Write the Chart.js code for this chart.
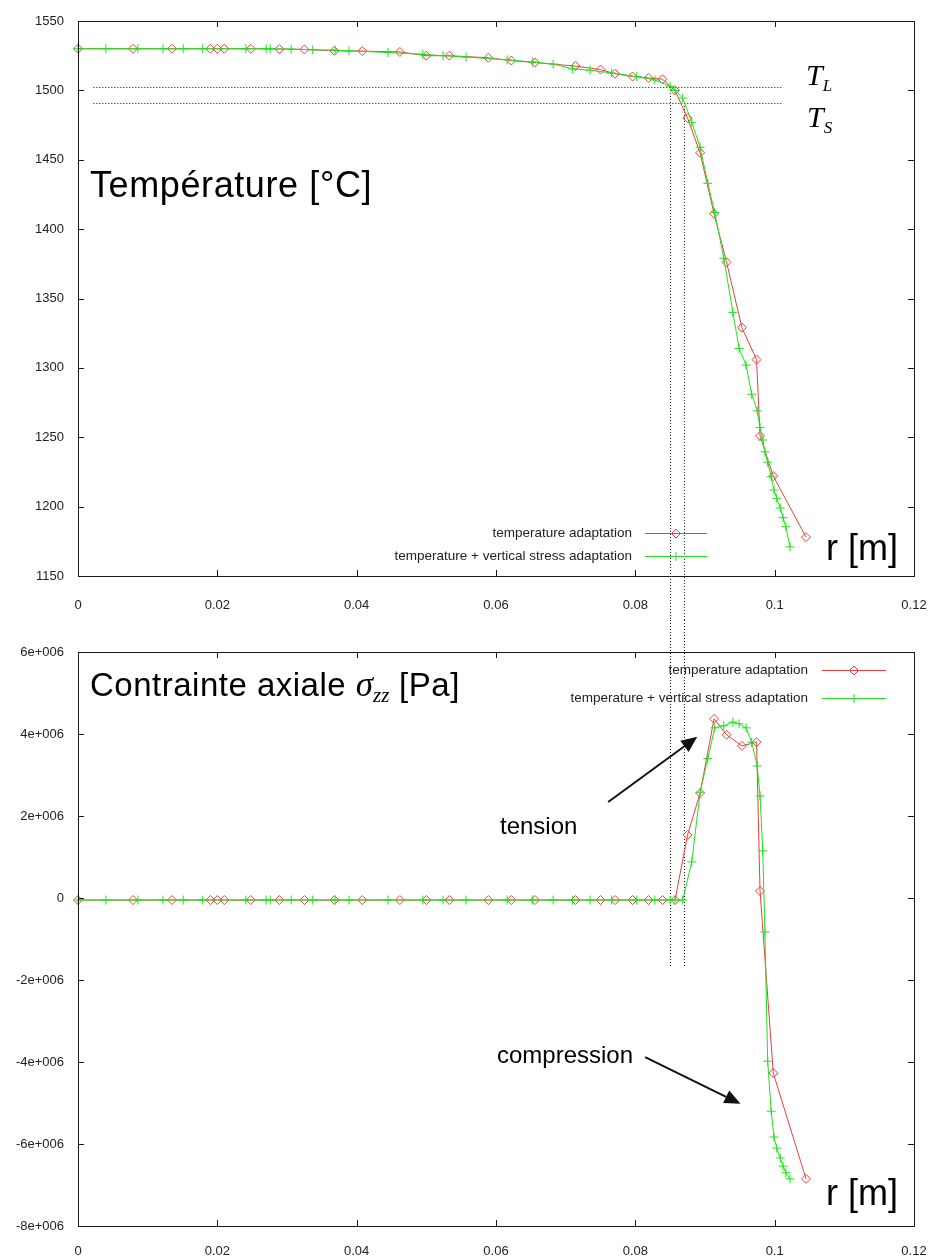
<!DOCTYPE html>
<html>
<head>
<meta charset="utf-8">
<script src="https://cdn.jsdelivr.net/npm/chart.js@4.4.1/dist/chart.umd.min.js"></script>
<style>
  body { margin: 0; background: #fff; }
  #wrap { position: relative; width: 930px; height: 1260px; overflow: hidden; font-family: Arial, "Liberation Sans", sans-serif; }
  canvas { position: absolute; left: 0; }
  #tempChart { top: 0; }
  #stressChart { top: 620px; }
  .lbl { position: absolute; white-space: nowrap; line-height: 1; color: #000; }
  .big { font-size: 36px; }
  .ital { font-family: "Liberation Serif", "DejaVu Serif", serif; font-style: italic; }
  .note { font-size: 24px; }
</style>
</head>
<body>
<div id="wrap">
  <canvas id="tempChart" width="930" height="620"></canvas>
  <canvas id="stressChart" width="930" height="640"></canvas>

  <div class="lbl big" style="left:90px;top:167px;letter-spacing:0.6px;">Température [°C]</div>
  <div class="lbl big" style="left:826px;top:530px;">r [m]</div>
  <div class="lbl ital" style="left:806px;top:60px;font-size:30px;">T<span style="font-size:17px;position:relative;top:6px;">L</span></div>
  <div class="lbl ital" style="left:807px;top:102px;font-size:30px;">T<span style="font-size:17px;position:relative;top:6px;">S</span></div>

  <div class="lbl" style="left:90px;top:667px;font-size:33px;letter-spacing:0.5px;">Contrainte axiale <span class="ital" style="font-size:35px;letter-spacing:0;">σ<span style="font-size:21px;position:relative;top:6px;">zz</span></span> [Pa]</div>
  <div class="lbl big" style="left:826px;top:1175px;">r [m]</div>
  <div class="lbl note" style="left:500px;top:814px;">tension</div>
  <div class="lbl note" style="left:497px;top:1043px;">compression</div>
</div>

<script>
// radius r [m], shared tick labels
var rTickLabels = ['0', '0.02', '0.04', '0.06', '0.08', '0.1', '0.12'];
var tempTickLabels = ['1150', '1200', '1250', '1300', '1350', '1400', '1450', '1500', '1550'];
var sigmaTickLabels = ['-8e+006', '-6e+006', '-4e+006', '-2e+006', '0', '2e+006', '4e+006', '6e+006'];

// "temperature adaptation" (red diamonds)
var rRed = [0, 0.0079, 0.0135, 0.0190, 0.0200, 0.0210, 0.0248, 0.0289, 0.0325, 0.0368, 0.0408,
            0.0462, 0.0500, 0.0533, 0.0589, 0.0622, 0.0656, 0.0714, 0.0750, 0.0771, 0.0796, 0.0819,
            0.0839, 0.0857, 0.0875, 0.0893, 0.0913, 0.0931, 0.0953, 0.0974, 0.0979, 0.0998, 0.1045];
var tempRed = [1530, 1530, 1530, 1530, 1530, 1530, 1530, 1529.8, 1529.5, 1528.5, 1528.3,
               1527.7, 1525, 1525, 1523.5, 1521.5, 1520, 1517.5, 1515, 1512, 1510, 1509,
               1508, 1500, 1480, 1455, 1411, 1376, 1329, 1306, 1251, 1222, 1178];
var sigmaRed = [-0.05e6, -0.05e6, -0.05e6, -0.05e6, -0.05e6, -0.05e6, -0.05e6, -0.05e6, -0.05e6, -0.05e6, -0.05e6,
                -0.05e6, -0.05e6, -0.05e6, -0.05e6, -0.05e6, -0.05e6, -0.05e6, -0.05e6, -0.05e6, -0.05e6, -0.05e6,
                -0.05e6, -0.05e6, 1.54e6, 2.56e6, 4.37e6, 3.98e6, 3.71e6, 3.80e6, 0.17e6, -4.27e6, -6.85e6];

// "temperature + vertical stress adaptation" (green crosses)
var rGreen = [0, 0.0040, 0.0086, 0.0122, 0.0151, 0.0179, 0.0241, 0.0270, 0.0276, 0.0306,
              0.0337, 0.0369, 0.0389, 0.0445, 0.0495, 0.0524, 0.0557, 0.0616, 0.0652, 0.0682,
              0.0710, 0.0735, 0.0766, 0.0802, 0.0828, 0.0850, 0.0857, 0.0868, 0.0881, 0.0893,
              0.0904, 0.0914, 0.0927, 0.0940, 0.0949, 0.0959, 0.0967, 0.0975, 0.0979, 0.0983,
              0.0986, 0.0990, 0.0995, 0.0999, 0.1003, 0.1008, 0.1012, 0.1016, 0.1022];
var tempGreen = [1530, 1530, 1530, 1530, 1530, 1530, 1530, 1530, 1530, 1529.7,
                 1529.3, 1529, 1528.5, 1527.3, 1526, 1525, 1524, 1522, 1520.5, 1519,
                 1515.5, 1514.5, 1512.5, 1510, 1507.5, 1503, 1500, 1494.5, 1477, 1459,
                 1433, 1412, 1379, 1340, 1314, 1302, 1281, 1269, 1257, 1248,
                 1239.5, 1232, 1221.5, 1212, 1206, 1199, 1192, 1185.5, 1171];
var sigmaGreen = [-0.05e6, -0.05e6, -0.05e6, -0.05e6, -0.05e6, -0.05e6, -0.05e6, -0.05e6, -0.05e6, -0.05e6,
                  -0.05e6, -0.05e6, -0.05e6, -0.05e6, -0.05e6, -0.05e6, -0.05e6, -0.05e6, -0.05e6, -0.05e6,
                  -0.05e6, -0.05e6, -0.05e6, -0.05e6, -0.05e6, -0.05e6, -0.05e6, -0.05e6, 0.88e6, 2.58e6,
                  3.4e6, 4.15e6, 4.2e6, 4.29e6, 4.25e6, 4.15e6, 3.8e6, 3.22e6, 2.49e6, 1.15e6,
                  -0.83e6, -3.98e6, -5.2e6, -5.83e6, -6.1e6, -6.34e6, -6.54e6, -6.7e6, -6.85e6];

// liquidus / solidus guides
var tLiquidus = 1502.5, tSolidus = 1491;
var rLiquidus = 0.085, rSolidus = 0.087;

var RED = '#e8403c';
var GREEN = '#22e022';
var INK = '#1a1a1a';

function pts(xs, ys) {
    return xs.map(function(v, i) { return { x: v, y: ys[i] }; });
}

function redSet(ys) {
    return {
        label: 'temperature adaptation',
        data: pts(rRed, ys),
        showLine: true,
        borderColor: RED,
        borderWidth: 1,
        pointStyle: 'rectRot',
        pointRadius: 4.5,
        pointBorderWidth: 1,
        pointBorderColor: RED,
        pointBackgroundColor: 'rgba(0,0,0,0)',
        clip: false,
        order: 2
    };
}

function greenSet(ys) {
    return {
        label: 'temperature + vertical stress adaptation',
        data: pts(rGreen, ys),
        showLine: true,
        borderColor: GREEN,
        borderWidth: 1,
        pointStyle: 'cross',
        pointRadius: 4.5,
        pointBorderWidth: 1,
        pointBorderColor: GREEN,
        pointBackgroundColor: 'rgba(0,0,0,0)',
        clip: false,
        order: 1
    };
}

// gnuplot-like frame with inward ticks on all four sides
var framePlugin = {
    id: 'frame',
    afterDraw: function(chart) {
        var ctx = chart.ctx, a = chart.chartArea;
        var x = chart.scales.x, y = chart.scales.y;
        ctx.save();
        ctx.strokeStyle = INK;
        ctx.lineWidth = 1;
        ctx.setLineDash([]);
        ctx.strokeRect(Math.round(a.left) + 0.5, Math.round(a.top) + 0.5,
                       Math.round(a.right - a.left), Math.round(a.bottom - a.top));
        ctx.beginPath();
        x.ticks.forEach(function(t) {
            var px = Math.round(x.getPixelForValue(t.value)) + 0.5;
            ctx.moveTo(px, a.bottom); ctx.lineTo(px, a.bottom - 6);
            ctx.moveTo(px, a.top); ctx.lineTo(px, a.top + 6);
        });
        y.ticks.forEach(function(t) {
            var py = Math.round(y.getPixelForValue(t.value)) + 0.5;
            ctx.moveTo(a.left, py); ctx.lineTo(a.left + 6, py);
            ctx.moveTo(a.right, py); ctx.lineTo(a.right - 6, py);
        });
        ctx.stroke();
        ctx.restore();
    }
};

// dotted liquidus / solidus lines
var guidesPlugin = {
    id: 'guides',
    beforeDatasetsDraw: function(chart, args, o) {
        var ctx = chart.ctx, x = chart.scales.x, y = chart.scales.y;
        ctx.save();
        ctx.strokeStyle = '#111';
        ctx.lineWidth = 1;
        ctx.setLineDash([1, 2]);
        (o.hLines || []).forEach(function(h) {
            var py = Math.round(y.getPixelForValue(h.y)) + 0.5;
            ctx.beginPath();
            ctx.moveTo(x.getPixelForValue(h.from), py);
            ctx.lineTo(x.getPixelForValue(h.to), py);
            ctx.stroke();
        });
        (o.vLines || []).forEach(function(v) {
            var px = Math.round(x.getPixelForValue(v.x)) + 0.5;
            var y0 = v.from === null ? 0 : y.getPixelForValue(v.from);
            var y1 = v.to === null ? chart.height : y.getPixelForValue(v.to);
            ctx.beginPath();
            ctx.moveTo(px, y0);
            ctx.lineTo(px, y1);
            ctx.stroke();
        });
        ctx.restore();
    }
};

// key in gnuplot style: right aligned text, sample line with marker
var keyPlugin = {
    id: 'key',
    afterDraw: function(chart, args, o) {
        var ctx = chart.ctx;
        ctx.save();
        ctx.font = '13.5px Arial, "Liberation Sans", sans-serif';
        ctx.textAlign = 'right';
        ctx.textBaseline = 'middle';
        chart.data.datasets.forEach(function(ds, i) {
            var yy = o.top + i * o.gap;
            ctx.fillStyle = '#222';
            ctx.fillText(ds.label, o.textRight, yy);
            ctx.strokeStyle = ds.borderColor;
            ctx.lineWidth = 1;
            ctx.beginPath();
            ctx.moveTo(o.lineFrom, Math.round(yy) + 0.5);
            ctx.lineTo(o.lineTo, Math.round(yy) + 0.5);
            ctx.stroke();
            ctx.fillStyle = 'rgba(0,0,0,0)';
            Chart.helpers.drawPoint(ctx, {
                pointStyle: ds.pointStyle, radius: ds.pointRadius, borderWidth: 1, rotation: 0
            }, (o.lineFrom + o.lineTo) / 2, Math.round(yy) + 0.5);
        });
        ctx.restore();
    }
};

// annotation arrows, anchored in data coordinates
var arrowPlugin = {
    id: 'arrows',
    afterDraw: function(chart, args, o) {
        var ctx = chart.ctx, x = chart.scales.x, y = chart.scales.y;
        ctx.save();
        ctx.strokeStyle = '#111';
        ctx.fillStyle = '#111';
        ctx.lineWidth = 2;
        (o.list || []).forEach(function(ar) {
            var x0 = x.getPixelForValue(ar.from[0]), y0 = y.getPixelForValue(ar.from[1]);
            var x1 = x.getPixelForValue(ar.to[0]), y1 = y.getPixelForValue(ar.to[1]);
            var ang = Math.atan2(y1 - y0, x1 - x0);
            var hl = 16, hw = 7;
            var bx = x1 - hl * Math.cos(ang), by = y1 - hl * Math.sin(ang);
            ctx.beginPath();
            ctx.moveTo(x0, y0);
            ctx.lineTo(bx, by);
            ctx.stroke();
            ctx.beginPath();
            ctx.moveTo(x1, y1);
            ctx.lineTo(bx + hw * Math.sin(ang), by - hw * Math.cos(ang));
            ctx.lineTo(bx - hw * Math.sin(ang), by + hw * Math.cos(ang));
            ctx.closePath();
            ctx.fill();
        });
        ctx.restore();
    }
};

var tickFont = { family: 'Arial, "Liberation Sans", sans-serif', size: 13 };

function xScale(labelPad, height) {
    return {
        type: 'linear',
        min: 0,
        max: 0.12,
        grid: { display: false, drawTicks: false },
        border: { display: false },
        ticks: {
            stepSize: 0.02,
            padding: labelPad,
            color: '#222',
            font: tickFont,
            maxRotation: 0,
            callback: function(v, i) { return rTickLabels[i]; }
        },
        afterFit: function(s) {
            s.height = height;
            s.paddingLeft = 0;
            s.paddingRight = 0;
        }
    };
}

function yScale(min, max, step, labels) {
    return {
        type: 'linear',
        min: min,
        max: max,
        grid: { display: false, drawTicks: false },
        border: { display: false },
        ticks: {
            stepSize: step,
            padding: 14,
            color: '#222',
            font: tickFont,
            callback: function(v, i) { return labels[i]; }
        },
        afterFit: function(s) {
            s.width = 78;
            s.paddingTop = 0;
            s.paddingBottom = 0;
        }
    };
}

var tempChart = new Chart(document.getElementById('tempChart'), {
    type: 'scatter',
    data: { datasets: [redSet(tempRed), greenSet(tempGreen)] },
    options: {
        responsive: false,
        animation: false,
        devicePixelRatio: 1,
        layout: { padding: { top: 21, right: 16, left: 0, bottom: 0 } },
        scales: {
            x: xScale(22, 44),
            y: yScale(1150, 1550, 50, tempTickLabels)
        },
        plugins: {
            legend: { display: false },
            tooltip: { enabled: false },
            guides: {
                hLines: [
                    { y: tLiquidus, from: 0.0022, to: 0.1011 },
                    { y: tSolidus, from: 0.0022, to: 0.1011 }
                ],
                vLines: [
                    { x: rLiquidus, from: tLiquidus, to: null },
                    { x: rSolidus, from: tSolidus, to: null }
                ]
            },
            key: { textRight: 632, lineFrom: 645, lineTo: 707, top: 533, gap: 23 }
        }
    },
    plugins: [guidesPlugin, framePlugin, keyPlugin]
});

var stressChart = new Chart(document.getElementById('stressChart'), {
    type: 'scatter',
    data: { datasets: [redSet(sigmaRed), greenSet(sigmaGreen)] },
    options: {
        responsive: false,
        animation: false,
        devicePixelRatio: 1,
        layout: { padding: { top: 32, right: 16, left: 0, bottom: 0 } },
        scales: {
            x: xScale(18, 34),
            y: yScale(-8e6, 6e6, 2e6, sigmaTickLabels)
        },
        plugins: {
            legend: { display: false },
            tooltip: { enabled: false },
            guides: {
                vLines: [
                    { x: rLiquidus, from: null, to: -1.7e6 },
                    { x: rSolidus, from: null, to: -1.7e6 }
                ]
            },
            key: { textRight: 808, lineFrom: 822, lineTo: 886, top: 50, gap: 28 },
            arrows: {
                list: [
                    { from: [0.0761, 2.34e6], to: [0.0889, 3.93e6] },
                    { from: [0.0814, -3.88e6], to: [0.0951, -5.02e6] }
                ]
            }
        }
    },
    plugins: [guidesPlugin, framePlugin, keyPlugin, arrowPlugin]
});
</script>
</body>
</html>
